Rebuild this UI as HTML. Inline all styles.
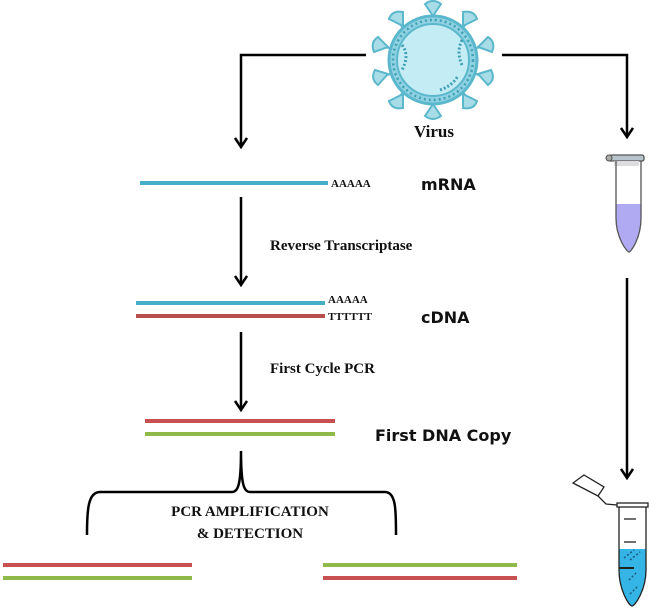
<!DOCTYPE html>
<html><head><meta charset="utf-8"><style>
html,body{margin:0;padding:0;background:#fff;width:650px;height:612px;overflow:hidden}
.serif{font-family:"Liberation Serif",serif;font-weight:bold;fill:#111}
.sans{font-family:"DejaVu Sans","Liberation Sans",sans-serif;font-weight:bold;fill:#111}
</style></head><body>
<svg width="650" height="612" viewBox="0 0 650 612" xmlns="http://www.w3.org/2000/svg">
<defs>
<marker id="ah" markerWidth="14" markerHeight="14" refX="11" refY="7" orient="auto" markerUnits="userSpaceOnUse" viewBox="0 0 14 14">
<path d="M2,1 L11,7 L2,13" fill="none" stroke="#000" stroke-width="2.5"/>
</marker>
</defs>
<g stroke="#000" stroke-width="2.5" fill="none">
<path d="M366,55 H241 V147" marker-end="url(#ah)"/>
<path d="M502,55 H627 V137" marker-end="url(#ah)"/>
<path d="M241,197 V285" marker-end="url(#ah)"/>
<path d="M241,332 V410" marker-end="url(#ah)"/>
<path d="M627,278 V478" marker-end="url(#ah)"/>
<path d="M87,535 C87,510 88,492 100,492 H232 C238,492 241,485 241,451 C241,485 244,492 250,492 H385 C396,492 396,510 396,535"/>
</g>
<!-- virus -->
<g>
<g stroke="#5bb8cc" stroke-width="2" fill="#a8dde8">
<path d="M433,60 L433,5 M433,60 L470,20 M433,60 L488,45 M433,60 L488,78 M433,60 L470,100 M433,60 L433,113 M433,60 L396,100 M433,60 L378,78 M433,60 L378,45 M433,60 L396,20"/>
<path d="M433,16 L425,4 Q433,-2 441,4 Z"/>
<path d="M463,26 L463,12 Q474,10 477,19 Z"/>
<path d="M478,47 L488,37 Q496,42 492,52 Z"/>
<path d="M478,74 L491,70 Q496,79 488,85 Z"/>
<path d="M463,94 L477,101 Q474,110 463,108 Z"/>
<path d="M433,104 L441,116 Q433,122 425,116 Z"/>
<path d="M403,94 L403,108 Q392,110 389,101 Z"/>
<path d="M388,74 L378,85 Q370,79 375,70 Z"/>
<path d="M388,47 L374,52 Q370,42 378,37 Z"/>
<path d="M403,26 L389,19 Q392,10 403,12 Z"/>
</g>
<circle cx="433" cy="60" r="44" fill="#8fd2e2" stroke="#5bb8cc" stroke-width="3"/>
<circle cx="433" cy="60" r="36" fill="#c4ecf4" stroke="#5bb8cc" stroke-width="2"/>
<circle cx="433" cy="60" r="40" fill="none" stroke="#3f9fb5" stroke-width="2.5" stroke-dasharray="2 3"/>
<path d="M402,45 q8,10 0,25 M462,40 q-6,12 0,25 M440,90 q12,-4 18,-14" stroke="#3f9fb5" stroke-width="3" fill="none" stroke-dasharray="2 2"/>
</g>
<text x="434" y="137" text-anchor="middle" class="serif" font-size="17">Virus</text>
<!-- strands -->
<g stroke-width="4">
<line x1="140" y1="183" x2="328" y2="183" stroke="#46afc8"/>
<line x1="136" y1="303" x2="325" y2="303" stroke="#46afc8"/>
<line x1="136" y1="316" x2="325" y2="316" stroke="#b84e4e"/>
<line x1="145" y1="421" x2="335" y2="421" stroke="#c85050"/>
<line x1="145" y1="434" x2="335" y2="434" stroke="#8fba4a"/>
<line x1="3" y1="565" x2="192" y2="565" stroke="#c85050"/>
<line x1="3" y1="578" x2="192" y2="578" stroke="#8fba4a"/>
<line x1="323" y1="565" x2="517" y2="565" stroke="#8fba4a"/>
<line x1="323" y1="578" x2="517" y2="578" stroke="#c85050"/>
</g>
<text x="331" y="187" class="serif" font-size="11">AAAAA</text>
<text x="328" y="303" class="serif" font-size="11">AAAAA</text>
<text x="328" y="320" class="serif" font-size="11">TTTTTT</text>
<text x="421" y="190" class="sans" font-size="16">mRNA</text>
<text x="421" y="323" class="sans" font-size="16">cDNA</text>
<text x="375" y="441" class="sans" font-size="16">First DNA Copy</text>
<text x="270" y="250" class="serif" font-size="15">Reverse Transcriptase</text>
<text x="270" y="373" class="serif" font-size="15">First Cycle PCR</text>
<text x="250" y="516" text-anchor="middle" class="serif" font-size="15">PCR AMPLIFICATION</text>
<text x="250" y="538" text-anchor="middle" class="serif" font-size="15">&amp; DETECTION</text>
<!-- tube 1 -->
<g>
<rect x="609" y="155" width="35" height="6" rx="2" fill="#b8c4cc" stroke="#555" stroke-width="1.3"/>
<circle cx="609" cy="158" r="3" fill="#aaa" stroke="#555"/>
<rect x="614" y="161" width="25" height="5" fill="#ddd"/>
<path d="M616,204 H641 V218 C641,238 631,252 629,252 C627,252 616,238 616,218 Z" fill="#b0aaf2"/>
<path d="M616,161 V218 C616,238 627,252 629,252 C631,252 641,238 641,218 V161" fill="none" stroke="#555" stroke-width="1.3"/>
</g>
<!-- tube 2 -->
<g stroke="#222" stroke-width="1.3">
<path d="M573,483 L584,475 L604,487 L598,496 Z" fill="#fff"/>
<path d="M598,496 L606,504 L617,505" fill="none"/>
<rect x="617" y="503" width="31" height="4" fill="#fff"/>
<path d="M619,549 H646 V570 C646,590 635,606 632,606 C629,606 619,590 619,570 Z" fill="#35b4e6" stroke="none"/>
<path d="M619,507 V570 C619,590 629,606 632,606 C635,606 646,590 646,570 V507" fill="none"/>
<line x1="624" y1="519" x2="636" y2="519"/>
<line x1="624" y1="542" x2="636" y2="542"/>
<line x1="619" y1="568" x2="634" y2="568" stroke-width="2"/>
<path d="M624,558 l10,-8 M630,560 l10,-8 M629,580 l8,-8 M630,594 l8,-8" stroke="#1b5c80" stroke-width="1.5" stroke-dasharray="2 2"/>
</g>
</svg>
</body></html>
